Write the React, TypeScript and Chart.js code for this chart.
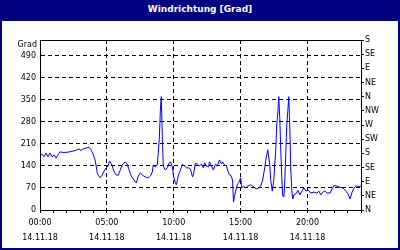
import React, { useEffect, useRef } from "react";
import { Chart, registerables } from "chart.js";

Chart.register(...registerables);

const TITLE = "Windrichtung [Grad]";
const DATE_LABEL = "14.11.18";
const LEFT_TICKS = [0, 70, 140, 210, 280, 350, 420, 490];
const RIGHT_TICKS = [0, 45, 90, 135, 180, 225, 270, 315, 360, 405, 450, 495, 540];
const RIGHT_LABELS = ["N", "NE", "E", "SE", "S", "SW", "W", "NW", "N", "NE", "E", "SE", "S"];

// minutes since 00:00
const times = [
  0, 9, 18, 27, 36, 45, 54, 63, 72, 81,
  90, 99, 117, 135, 153, 166, 175, 184, 193, 207,
  220, 229, 238, 247, 252, 256, 261, 270, 279, 288,
  297, 306, 310, 315, 324, 333, 342, 351, 360, 369,
  382, 391, 400, 409, 418, 432, 441, 450, 459, 472,
  486, 495, 504, 508, 517, 526, 535, 540, 544, 549,
  553, 562, 571, 580, 585, 594, 598, 607, 612, 621,
  630, 639, 648, 657, 666, 675, 684, 688, 697, 706,
  715, 724, 733, 738, 747, 756, 760, 769, 778, 787,
  796, 805, 814, 819, 828, 837, 841, 850, 855, 864,
  868, 873, 882, 886, 891, 900, 905, 914, 922, 932,
  945, 954, 963, 972, 981, 990, 999, 1008, 1013, 1017,
  1022, 1026, 1031, 1035, 1042, 1049, 1053, 1058, 1062, 1067,
  1071, 1076, 1080, 1085, 1089, 1094, 1098, 1103, 1107, 1112,
  1116, 1121, 1125, 1130, 1134, 1139, 1148, 1157, 1166, 1170,
  1184, 1193, 1202, 1215, 1229, 1242, 1251, 1260, 1269, 1278,
  1287, 1301, 1310, 1319, 1332, 1346, 1359, 1372, 1382, 1391,
  1400, 1409, 1418, 1431, 1440,
];

// wind direction in degrees
const directions = [
  178, 177, 169, 181, 169, 181, 169, 175, 165, 175,
  185, 183, 183, 185, 188, 191, 194, 189, 194, 197,
  199, 191, 178, 159, 140, 121, 111, 102, 111, 124,
  134, 140, 153, 154, 140, 121, 111, 111, 127, 143,
  153, 146, 127, 108, 99, 86, 108, 118, 111, 105,
  102, 108, 121, 143, 137, 143, 223, 318, 360, 223,
  140, 127, 134, 150, 153, 137, 111, 86, 80, 111,
  127, 145, 140, 134, 134, 130, 105, 111, 148, 146,
  140, 146, 134, 150, 140, 137, 153, 140, 127, 146,
  140, 159, 146, 153, 143, 140, 127, 111, 111, 95,
  25, 45, 73, 83, 86, 102, 70, 76, 70, 76,
  80, 76, 70, 67, 70, 76, 95, 134, 159, 175,
  191, 169, 143, 95, 60, 95, 143, 197, 270, 312,
  360, 286, 191, 95, 45, 41, 89, 191, 270, 318,
  360, 255, 127, 57, 35, 48, 51, 62, 48, 54,
  70, 60, 64, 54, 57, 54, 60, 48, 57, 60,
  54, 54, 67, 78, 76, 72, 70, 60, 51, 35,
  57, 70, 76, 75, 76,
];

const NAVY = "#000080";
const FONT = "DejaVu Sans";

const frameAndUnit = {
  id: "frameAndUnit",
  afterDraw(chart: any) {
    const { ctx, chartArea } = chart;
    ctx.save();
    ctx.strokeStyle = "#000";
    ctx.lineWidth = 1;
    ctx.strokeRect(
      Math.round(chartArea.left) + 0.5,
      Math.round(chartArea.top) + 0.5,
      Math.round(chartArea.right) - Math.round(chartArea.left),
      Math.round(chartArea.bottom) - Math.round(chartArea.top)
    );
    ctx.fillStyle = "#000";
    ctx.font = `8px "${FONT}"`;
    ctx.textAlign = "right";
    ctx.textBaseline = "middle";
    ctx.fillText("Grad", chartArea.left - 3, chartArea.top + 4.5);
    ctx.restore();
  },
};

function pad2(n: number) {
  return n < 10 ? "0" + n : "" + n;
}

export default function App() {
  const ref = useRef<HTMLCanvasElement | null>(null);

  useEffect(() => {
    if (!ref.current) return;
    const data = times.map((t, i) => ({ x: t, y: directions[i] }));
    const chart = new Chart(ref.current, {
      type: "line",
      data: {
        datasets: [
          {
            data,
            borderColor: "#0000ff",
            borderWidth: 1,
            pointRadius: 0,
            tension: 0,
            yAxisID: "y",
          },
        ],
      },
      options: {
        animation: false,
        responsive: false,
        maintainAspectRatio: false,
        layout: { padding: { top: 19, left: 0, right: 0, bottom: 0 } },
        plugins: { legend: { display: false }, tooltip: { enabled: false }, title: { display: false } },
        font: { family: FONT, size: 8 } as any,
        scales: {
          x: {
            type: "linear",
            min: 0,
            max: 1440,
            afterFit(scale: any) {
              scale.height = 38;
            },
            afterBuildTicks(scale: any) {
              const t = [];
              for (let m = 0; m <= 1440; m += 60) t.push({ value: m });
              scale.ticks = t;
            },
            ticks: {
              autoSkip: false,
              maxRotation: 0,
              padding: 2,
              color: "#000",
              font: { family: FONT, size: 8, lineHeight: 15 / 8 },
              callback: (v: any) => {
                const m = Number(v);
                if (m % 300 !== 0 || m >= 1440) return "";
                return [pad2(m / 60) + ":00", DATE_LABEL];
              },
            },
            grid: {
              color: (ctx: any) =>
                ctx.tick && ctx.tick.value % 300 === 0 ? "#000" : "rgba(0,0,0,0)",
              tickColor: "#000",
              tickLength: 3,
              lineWidth: 1,
              tickBorderDash: [],
            } as any,
            border: { display: true, color: "#000", dash: [4, 3] },
          },
          y: {
            type: "linear",
            position: "left",
            min: 0,
            max: 540,
            afterFit(scale: any) {
              scale.width = 38;
            },
            afterBuildTicks(scale: any) {
              scale.ticks = LEFT_TICKS.map((v) => ({ value: v }));
            },
            ticks: {
              padding: 4,
              color: "#000",
              font: { family: FONT, size: 8 },
              callback: (v: any) => String(v),
            },
            grid: {
              color: "#000",
              drawTicks: false,
              lineWidth: 1,
            },
            border: { display: true, color: "#000", dash: [4, 3] },
          },
          y2: {
            type: "linear",
            position: "right",
            min: 0,
            max: 540,
            afterFit(scale: any) {
              scale.width = 37;
            },
            afterBuildTicks(scale: any) {
              scale.ticks = RIGHT_TICKS.map((v) => ({ value: v }));
            },
            ticks: {
              padding: 1,
              color: "#000",
              font: { family: FONT, size: 8 },
              callback: (v: any) => {
                const i = RIGHT_TICKS.indexOf(Number(v));
                return i >= 0 ? RIGHT_LABELS[i] : "";
              },
            },
            grid: {
              drawOnChartArea: false,
              color: "#000",
              tickColor: "#000",
              tickLength: 3,
            } as any,
            border: { display: true, color: "#000" },
          },
        },
      },
      plugins: [frameAndUnit],
    });
    return () => chart.destroy();
  }, []);

  return (
    <div
      style={{
        position: "fixed",
        left: 0,
        top: 0,
        width: 400,
        height: 250,
        boxSizing: "border-box",
        background: NAVY,
        padding: "21px 2px 2px 2px",
      }}
    >
      <div
        style={{
          position: "absolute",
          left: 0,
          top: 0,
          width: 400,
          height: 19,
          lineHeight: "19px",
          textAlign: "center",
          color: "#fff",
          fontFamily: FONT,
          fontWeight: "bold",
          fontSize: 9,
        }}
      >
        {TITLE}
      </div>
      <div style={{ width: 396, height: 227, background: "#fff" }}>
        <canvas ref={ref} width={396} height={227} style={{ display: "block" }} />
      </div>
    </div>
  );
}
